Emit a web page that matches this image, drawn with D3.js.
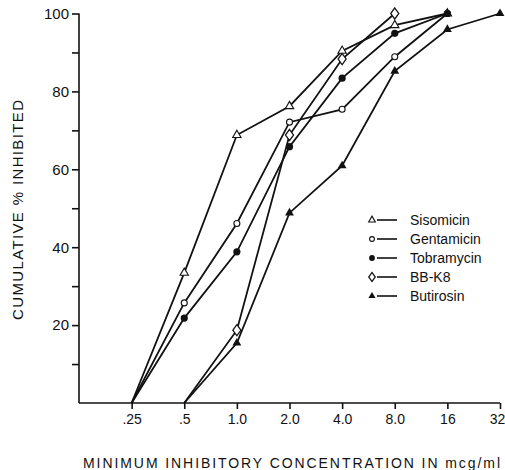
<!DOCTYPE html>
<html>
<head>
<meta charset="utf-8">
<script src="https://cdn.jsdelivr.net/npm/d3@7"></script>
<style>
  body { margin: 0; background: #fff; }
  svg text { font-family: "Liberation Sans", Arial, sans-serif; fill: #111; }
</style>
</head>
<body>
<svg id="svg"></svg>
<script>
// concentrations (mcg/ml) on the x axis
const concentrations = [0.25, 0.5, 1, 2, 4, 8, 16, 32];
const tickLabels = [".25", ".5", "1.0", "2.0", "4.0", "8.0", "16", "32"];
const yTicks = [10, 20, 30, 40, 50, 60, 70, 80, 90, 100];

// cumulative % inhibited, null = no point
const sisomicin  = [0, 33.4, 68.8, 76.2, 90.4, 97, 100, null];
const gentamicin = [0, 25.7, 46.1, 72.1, 75.4, 88.9, 100, null];
const tobramycin = [0, 21.8, 38.8, 65.8, 83.4, 94.9, 100, null];
const bbk8       = [null, 0, 18.7, 68.8, 88.3, 100, null, null];
const butirosin  = [null, 0, 15.4, 48.8, 60.9, 85.2, 95.9, 100];

const seriesNames = ["Sisomicin", "Gentamicin", "Tobramycin", "BB-K8", "Butirosin"];
const seriesValues = [sisomicin, gentamicin, tobramycin, bbk8, butirosin];
const markerTypes = ["openTriangle", "openCircle", "filledCircle", "openDiamond", "filledTriangle"];

const width = 505;
const height = 470;

let svg = d3.select("#svg").attr("width", width).attr("height", height);

const xScale = d3.scaleLog().base(2)
    .domain([0.125, 32])
    .range([79, 500]);

const yScale = d3.scaleLinear()
    .domain([0, 100])
    .range([403, 13.5]);

// y axis
const yAxis = svg.append("g")
    .attr("transform", "translate(79,0)")
    .call(d3.axisLeft(yScale).tickValues(yTicks).tickSize(7)
        .tickFormat(d => d % 20 === 0 ? d : ""));
yAxis.select(".domain").attr("d", `M0,${yScale(0)}V${yScale(100)}`);
yAxis.selectAll("text").attr("x", -10).style("font-size", "15px");

// x axis
const xAxis = svg.append("g")
    .attr("transform", "translate(0,403)")
    .call(d3.axisBottom(xScale).tickValues(concentrations).tickSize(6)
        .tickFormat((d, i) => tickLabels[i]));
xAxis.select(".domain").attr("d", `M79,0H${xScale(32)}`);
xAxis.selectAll("text").attr("y", 11).style("font-size", "14px");
// keep the last label inside the window
xAxis.selectAll("text").filter(d => d === 32).attr("dx", -3);

svg.selectAll(".domain, .tick line")
    .attr("stroke", "#111")
    .attr("stroke-width", 1.6);

// axis titles
svg.append("text")
    .attr("x", 83)
    .attr("y", 468)
    .attr("textLength", 417)
    .attr("lengthAdjust", "spacing")
    .style("font-size", "14px")
    .text("MINIMUM INHIBITORY CONCENTRATION IN mcg/ml");

svg.append("text")
    .attr("transform", "translate(23,210) rotate(-90)")
    .attr("text-anchor", "middle")
    .attr("textLength", 220)
    .attr("lengthAdjust", "spacing")
    .style("font-size", "15px")
    .text("CUMULATIVE % INHIBITED");

function drawMarker(g, type, x, y, k) {
    const tri = d3.symbol().type(d3.symbolTriangle);
    if (type === "openTriangle") {
        g.append("path").attr("d", tri.size(30 * k)())
            .attr("transform", `translate(${x},${y})`)
            .attr("fill", "#fff").attr("stroke", "#111").attr("stroke-width", 1.1);
    } else if (type === "filledTriangle") {
        g.append("path").attr("d", tri.size(34 * k)())
            .attr("transform", `translate(${x},${y})`)
            .attr("fill", "#111");
    } else if (type === "openCircle") {
        g.append("circle").attr("cx", x).attr("cy", y).attr("r", 3 * Math.sqrt(k))
            .attr("fill", "#fff").attr("stroke", "#111").attr("stroke-width", 1.1);
    } else if (type === "filledCircle") {
        g.append("circle").attr("cx", x).attr("cy", y).attr("r", 3.6 * Math.sqrt(k))
            .attr("fill", "#111");
    } else if (type === "openDiamond") {
        g.append("path").attr("d", d3.symbol().type(d3.symbolDiamond).size(36 * k)())
            .attr("transform", `translate(${x},${y}) scale(1.25,1)`)
            .attr("fill", "#fff").attr("stroke", "#111").attr("stroke-width", 1.1);
    }
}

const line = d3.line()
    .defined(d => d.v !== null)
    .x(d => xScale(d.c))
    .y(d => yScale(d.v));

const plot = svg.append("g");

seriesValues.forEach(vals => {
    const pts = vals.map((v, i) => ({ c: concentrations[i], v: v }));
    plot.append("path")
        .datum(pts)
        .attr("d", line)
        .attr("fill", "none")
        .attr("stroke", "#111")
        .attr("stroke-width", 1.8);
});

seriesValues.forEach((vals, s) => {
    vals.forEach((v, i) => {
        if (v === null || v === 0) return;
        drawMarker(plot, markerTypes[s], xScale(concentrations[i]), yScale(v), 1);
    });
});

// legend
const legend = svg.append("g");
seriesNames.forEach((name, i) => {
    const y = 220 + i * 19;
    drawMarker(legend, markerTypes[i], 372, y, 0.65);
    legend.append("line")
        .attr("x1", 377).attr("x2", 397)
        .attr("y1", y).attr("y2", y)
        .attr("stroke", "#111").attr("stroke-width", 1.6);
    legend.append("text")
        .attr("x", 410).attr("y", y + 5)
        .style("font-size", "14px")
        .text(name);
});
</script>
</body>
</html>
